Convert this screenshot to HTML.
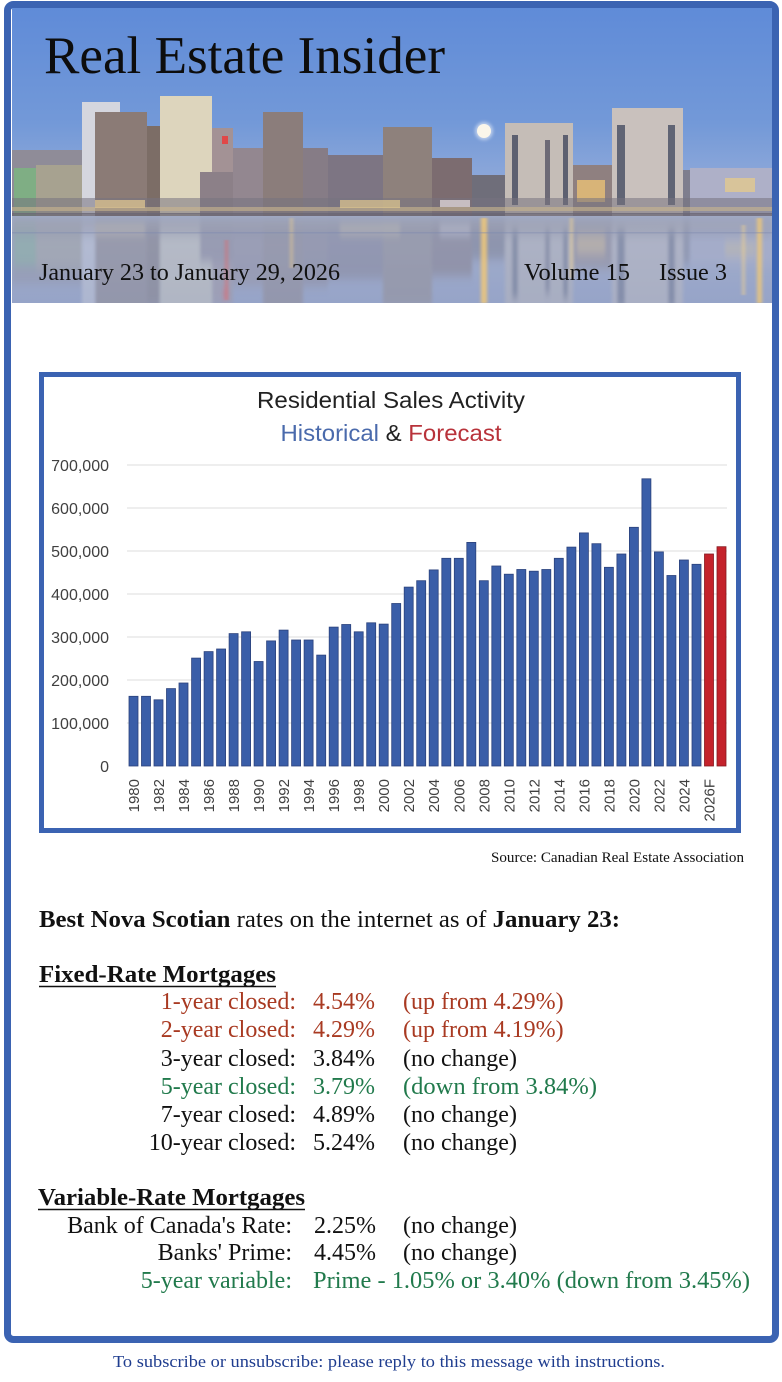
<!DOCTYPE html>
<html>
<head>
<meta charset="utf-8">
<style>
  html,body{margin:0;padding:0;background:#ffffff;}
  svg{display:block;}
  .serif{font-family:"Liberation Serif","Times New Roman",serif;}
  .sans{font-family:"Liberation Sans",Arial,sans-serif;}
</style>
</head>
<body>
<svg width="782" height="1382" viewBox="0 0 782 1382" xmlns="http://www.w3.org/2000/svg">
  <defs>
    <linearGradient id="sky" x1="0" y1="0" x2="0" y2="1">
      <stop offset="0" stop-color="#5f8bd8"/>
      <stop offset="0.55" stop-color="#7399d8"/>
      <stop offset="1" stop-color="#9fb2da"/>
    </linearGradient>
    <linearGradient id="water" x1="0" y1="0" x2="0" y2="1">
      <stop offset="0" stop-color="#a6b0cc"/>
      <stop offset="1" stop-color="#93a1c6"/>
    </linearGradient>
    <clipPath id="hc"><rect x="12" y="8" width="760" height="295"/></clipPath>
    <clipPath id="wc"><rect x="12" y="216" width="760" height="87"/></clipPath>
    <filter id="bl" x="-10%" y="-20%" width="120%" height="140%"><feGaussianBlur stdDeviation="1.5 5"/></filter>
    <filter id="bl2" x="-50%" y="-10%" width="200%" height="120%"><feGaussianBlur stdDeviation="1.5 0.5"/></filter>
    <filter id="glow" x="-100%" y="-100%" width="300%" height="300%"><feGaussianBlur stdDeviation="1.5"/></filter>
  </defs>

  <!-- Outer frame -->
  <rect x="7.5" y="4.5" width="768" height="1335" rx="6" ry="6" fill="#ffffff" stroke="#3b63b2" stroke-width="7"/>

  <!-- Header image -->
  <g clip-path="url(#hc)">
    <rect x="12" y="8" width="760" height="210" fill="url(#sky)"/>
    <g id="city">
      <rect x="12" y="150" width="70" height="66" fill="#8f8c98"/>
      <rect x="14" y="168" width="22" height="48" fill="#7fae84"/>
      <rect x="36" y="165" width="46" height="51" fill="#a7a290"/>
      <rect x="82" y="102" width="38" height="114" fill="#d5d6de"/>
      <rect x="95" y="112" width="52" height="104" fill="#8b7b76"/>
      <rect x="147" y="126" width="14" height="90" fill="#7c6d66"/>
      <rect x="160" y="96" width="52" height="120" fill="#ddd5bd"/>
      <rect x="212" y="128" width="21" height="88" fill="#a39295"/>
      <rect x="222" y="136" width="6" height="8" fill="#e04848"/>
      <rect x="200" y="172" width="90" height="44" fill="#8c8088"/>
      <rect x="233" y="148" width="30" height="68" fill="#938790"/>
      <rect x="263" y="112" width="40" height="104" fill="#8b7d7b"/>
      <rect x="303" y="148" width="25" height="68" fill="#867c86"/>
      <rect x="328" y="155" width="55" height="61" fill="#7d7583"/>
      <rect x="383" y="127" width="49" height="89" fill="#8e817c"/>
      <rect x="432" y="158" width="40" height="58" fill="#7c6c70"/>
      <rect x="472" y="175" width="33" height="41" fill="#6f6e7a"/>
      <rect x="505" y="123" width="68" height="93" fill="#c5bdb7"/>
      <rect x="512" y="135" width="6" height="70" fill="#5d6070"/>
      <rect x="545" y="140" width="5" height="65" fill="#6d6a76"/>
      <rect x="563" y="135" width="5" height="70" fill="#5d6070"/>
      <rect x="573" y="165" width="39" height="51" fill="#8f8080"/>
      <rect x="577" y="180" width="28" height="22" fill="#d8b478"/>
      <rect x="612" y="108" width="71" height="108" fill="#c9c1bd"/>
      <rect x="617" y="125" width="8" height="80" fill="#606474"/>
      <rect x="668" y="125" width="7" height="80" fill="#606474"/>
      <rect x="683" y="170" width="7" height="46" fill="#7e7e8e"/>
      <rect x="690" y="168" width="82" height="48" fill="#aeb0c8"/>
      <rect x="725" y="178" width="30" height="14" fill="#d8c49a"/>
      <rect x="12" y="198" width="760" height="16" fill="#77737f" opacity="0.55"/>
      <rect x="12" y="207" width="760" height="4" fill="#c9b58e" opacity="0.6"/>
      <rect x="95" y="200" width="50" height="8" fill="#d8c090" opacity="0.8"/>
      <rect x="340" y="200" width="60" height="8" fill="#e0c890" opacity="0.7"/>
      <rect x="440" y="200" width="30" height="7" fill="#e8e0e0" opacity="0.7"/>
      <rect x="12" y="213" width="760" height="3" fill="#6a6674" opacity="0.8"/>
    </g>
    <circle cx="484" cy="131" r="9" fill="#ffffff" opacity="0.5" filter="url(#glow)"/>
    <circle cx="484" cy="131" r="7" fill="#fbf6ea"/>

    <!-- water -->
    <rect x="12" y="216" width="760" height="87" fill="url(#water)"/>
    <g clip-path="url(#wc)">
      <g opacity="0.5" filter="url(#bl)">
        <use href="#city" transform="translate(0,434) scale(1,-1)"/>
      </g>
    </g>
    <rect x="12" y="216" width="760" height="87" fill="#a0abcd" opacity="0.3"/>
    <g filter="url(#bl2)">
      <rect x="481" y="218" width="6" height="85" fill="#f0c878" opacity="0.85"/>
      <rect x="757" y="218" width="5" height="85" fill="#f0c878" opacity="0.8"/>
      <rect x="742" y="225" width="3" height="70" fill="#f0d090" opacity="0.6"/>
      <rect x="570" y="218" width="3" height="60" fill="#f0d090" opacity="0.6"/>
      <rect x="225" y="240" width="3" height="60" fill="#e86060" opacity="0.5"/>
      <rect x="290" y="218" width="3" height="50" fill="#f0d090" opacity="0.5"/>
    </g>
    <rect x="12" y="232" width="760" height="1.5" fill="#7a88b0" opacity="0.4"/>
  </g>

  <!-- Header text -->
  <text class="serif" x="44" y="73" font-size="53" fill="#0d0d0d" textLength="401" lengthAdjust="spacingAndGlyphs">Real Estate Insider</text>
  <text class="serif" x="39" y="280" font-size="24" fill="#111" textLength="301" lengthAdjust="spacingAndGlyphs">January 23 to January 29, 2026</text>
  <text class="serif" x="524" y="280" font-size="24" fill="#111" textLength="106" lengthAdjust="spacingAndGlyphs">Volume 15</text>
  <text class="serif" x="659" y="280" font-size="24" fill="#111" textLength="68" lengthAdjust="spacingAndGlyphs">Issue 3</text>

  <!-- Chart frame -->
  <rect x="41.5" y="374.5" width="697" height="456" fill="#ffffff" stroke="#3b63b2" stroke-width="5"/>

  <!-- Chart title -->
  <text class="sans" x="391" y="408" font-size="23" fill="#222" text-anchor="middle" textLength="268" lengthAdjust="spacingAndGlyphs">Residential Sales Activity</text>
  <text class="sans" x="391" y="441" font-size="23" text-anchor="middle" textLength="221" lengthAdjust="spacingAndGlyphs"><tspan fill="#4a6aac">Historical</tspan><tspan fill="#222"> &amp; </tspan><tspan fill="#b8323a">Forecast</tspan></text>

  <!-- gridlines -->
  <g stroke="#e4e4e4" stroke-width="1.2">
    <line x1="127" y1="465" x2="727" y2="465"/>
    <line x1="127" y1="508" x2="727" y2="508"/>
    <line x1="127" y1="551" x2="727" y2="551"/>
    <line x1="127" y1="594" x2="727" y2="594"/>
    <line x1="127" y1="637" x2="727" y2="637"/>
    <line x1="127" y1="680" x2="727" y2="680"/>
    <line x1="127" y1="723" x2="727" y2="723"/>
  </g>

  <!-- y labels -->
  <g class="sans" font-size="16" fill="#404040" text-anchor="end">
    <text x="109" y="471">700,000</text>
    <text x="109" y="514">600,000</text>
    <text x="109" y="557">500,000</text>
    <text x="109" y="600">400,000</text>
    <text x="109" y="643">300,000</text>
    <text x="109" y="686">200,000</text>
    <text x="109" y="729">100,000</text>
    <text x="109" y="772">0</text>
  </g>

  <!-- bars -->
  <g fill="#3a5ea8" stroke="#2b427c" stroke-width="0.8">
    <rect x="129.0" y="696.3" width="9" height="69.7"/>
    <rect x="141.5" y="696.3" width="9" height="69.7"/>
    <rect x="154.0" y="699.8" width="9" height="66.2"/>
    <rect x="166.5" y="688.6" width="9" height="77.4"/>
    <rect x="179.0" y="683.0" width="9" height="83.0"/>
    <rect x="191.6" y="658.1" width="9" height="107.9"/>
    <rect x="204.1" y="651.6" width="9" height="114.4"/>
    <rect x="216.6" y="649.0" width="9" height="117.0"/>
    <rect x="229.1" y="633.6" width="9" height="132.4"/>
    <rect x="241.6" y="631.8" width="9" height="134.2"/>
    <rect x="254.1" y="661.5" width="9" height="104.5"/>
    <rect x="266.6" y="640.9" width="9" height="125.1"/>
    <rect x="279.1" y="630.1" width="9" height="135.9"/>
    <rect x="291.6" y="640.0" width="9" height="126.0"/>
    <rect x="304.1" y="640.0" width="9" height="126.0"/>
    <rect x="316.7" y="655.1" width="9" height="110.9"/>
    <rect x="329.2" y="627.1" width="9" height="138.9"/>
    <rect x="341.7" y="624.5" width="9" height="141.5"/>
    <rect x="354.2" y="631.8" width="9" height="134.2"/>
    <rect x="366.7" y="622.8" width="9" height="143.2"/>
    <rect x="379.2" y="624.1" width="9" height="141.9"/>
    <rect x="391.7" y="603.5" width="9" height="162.5"/>
    <rect x="404.2" y="587.1" width="9" height="178.9"/>
    <rect x="416.7" y="580.7" width="9" height="185.3"/>
    <rect x="429.2" y="569.9" width="9" height="196.1"/>
    <rect x="441.8" y="558.3" width="9" height="207.7"/>
    <rect x="454.3" y="558.3" width="9" height="207.7"/>
    <rect x="466.8" y="542.4" width="9" height="223.6"/>
    <rect x="479.3" y="580.7" width="9" height="185.3"/>
    <rect x="491.8" y="566.0" width="9" height="200.0"/>
    <rect x="504.3" y="574.2" width="9" height="191.8"/>
    <rect x="516.8" y="569.5" width="9" height="196.5"/>
    <rect x="529.3" y="571.2" width="9" height="194.8"/>
    <rect x="541.8" y="569.5" width="9" height="196.5"/>
    <rect x="554.3" y="558.3" width="9" height="207.7"/>
    <rect x="566.9" y="547.1" width="9" height="218.9"/>
    <rect x="579.4" y="532.9" width="9" height="233.1"/>
    <rect x="591.9" y="543.7" width="9" height="222.3"/>
    <rect x="604.4" y="567.3" width="9" height="198.7"/>
    <rect x="616.9" y="554.0" width="9" height="212.0"/>
    <rect x="629.4" y="527.3" width="9" height="238.7"/>
    <rect x="641.9" y="478.8" width="9" height="287.2"/>
    <rect x="654.4" y="551.9" width="9" height="214.1"/>
    <rect x="666.9" y="575.5" width="9" height="190.5"/>
    <rect x="679.4" y="560.0" width="9" height="206.0"/>
    <rect x="692.0" y="564.3" width="9" height="201.7"/>
  </g>
  <g fill="#c4222b" stroke="#861a20" stroke-width="0.8">
    <rect x="704.5" y="554.0" width="9" height="212.0"/>
    <rect x="717.0" y="546.7" width="9" height="219.3"/>
  </g>

  <!-- x labels -->
  <g class="sans" font-size="15" fill="#404040" text-anchor="end">
    <text transform="translate(139.0,779) rotate(-90)">1980</text>
    <text transform="translate(164.0,779) rotate(-90)">1982</text>
    <text transform="translate(189.0,779) rotate(-90)">1984</text>
    <text transform="translate(214.1,779) rotate(-90)">1986</text>
    <text transform="translate(239.1,779) rotate(-90)">1988</text>
    <text transform="translate(264.1,779) rotate(-90)">1990</text>
    <text transform="translate(289.1,779) rotate(-90)">1992</text>
    <text transform="translate(314.1,779) rotate(-90)">1994</text>
    <text transform="translate(339.2,779) rotate(-90)">1996</text>
    <text transform="translate(364.2,779) rotate(-90)">1998</text>
    <text transform="translate(389.2,779) rotate(-90)">2000</text>
    <text transform="translate(414.2,779) rotate(-90)">2002</text>
    <text transform="translate(439.2,779) rotate(-90)">2004</text>
    <text transform="translate(464.3,779) rotate(-90)">2006</text>
    <text transform="translate(489.3,779) rotate(-90)">2008</text>
    <text transform="translate(514.3,779) rotate(-90)">2010</text>
    <text transform="translate(539.3,779) rotate(-90)">2012</text>
    <text transform="translate(564.3,779) rotate(-90)">2014</text>
    <text transform="translate(589.4,779) rotate(-90)">2016</text>
    <text transform="translate(614.4,779) rotate(-90)">2018</text>
    <text transform="translate(639.4,779) rotate(-90)">2020</text>
    <text transform="translate(664.4,779) rotate(-90)">2022</text>
    <text transform="translate(689.4,779) rotate(-90)">2024</text>
    <text transform="translate(714.5,779) rotate(-90)">2026F</text>
  </g>

  <!-- Source -->
  <text class="serif" x="491" y="862" font-size="14.5" fill="#111" textLength="253" lengthAdjust="spacingAndGlyphs">Source: Canadian Real Estate Association</text>

  <!-- Rates intro -->
  <text class="serif" x="39" y="927" font-size="24" fill="#111" textLength="581" lengthAdjust="spacingAndGlyphs"><tspan font-weight="bold">Best Nova Scotian</tspan> rates on the internet as of <tspan font-weight="bold">January 23:</tspan></text>

  <!-- Fixed -->
  <text class="serif" x="39" y="982" font-size="24" font-weight="bold" fill="#111" textLength="237" lengthAdjust="spacingAndGlyphs">Fixed-Rate Mortgages</text>
  <line x1="39" y1="986.5" x2="276" y2="986.5" stroke="#111" stroke-width="1.6"/>

  <g class="serif" font-size="24">
    <g fill="#a93a22">
      <text x="296" y="1009" text-anchor="end">1-year closed:</text>
      <text x="313" y="1009">4.54%</text>
      <text x="403" y="1009">(up from 4.29%)</text>
      <text x="296" y="1037" text-anchor="end">2-year closed:</text>
      <text x="313" y="1037">4.29%</text>
      <text x="403" y="1037">(up from 4.19%)</text>
    </g>
    <g fill="#111">
      <text x="296" y="1066" text-anchor="end">3-year closed:</text>
      <text x="313" y="1066">3.84%</text>
      <text x="403" y="1066">(no change)</text>
    </g>
    <g fill="#217a4c">
      <text x="296" y="1094" text-anchor="end">5-year closed:</text>
      <text x="313" y="1094">3.79%</text>
      <text x="403" y="1094" textLength="194" lengthAdjust="spacingAndGlyphs">(down from 3.84%)</text>
    </g>
    <g fill="#111">
      <text x="296" y="1122" text-anchor="end">7-year closed:</text>
      <text x="313" y="1122">4.89%</text>
      <text x="403" y="1122">(no change)</text>
      <text x="296" y="1150" text-anchor="end">10-year closed:</text>
      <text x="313" y="1150">5.24%</text>
      <text x="403" y="1150">(no change)</text>
    </g>
  </g>

  <!-- Variable -->
  <text class="serif" x="38" y="1205" font-size="24" font-weight="bold" fill="#111" textLength="267" lengthAdjust="spacingAndGlyphs">Variable-Rate Mortgages</text>
  <line x1="38" y1="1209.5" x2="305" y2="1209.5" stroke="#111" stroke-width="1.6"/>

  <g class="serif" font-size="24">
    <g fill="#111">
      <text x="292" y="1233" text-anchor="end">Bank of Canada's Rate:</text>
      <text x="314" y="1233">2.25%</text>
      <text x="403" y="1233">(no change)</text>
      <text x="292" y="1260" text-anchor="end">Banks' Prime:</text>
      <text x="314" y="1260">4.45%</text>
      <text x="403" y="1260">(no change)</text>
    </g>
    <g fill="#217a4c">
      <text x="292" y="1288" text-anchor="end">5-year variable:</text>
      <text x="313" y="1288" textLength="437" lengthAdjust="spacingAndGlyphs">Prime - 1.05% or 3.40% (down from 3.45%)</text>
    </g>
  </g>

  <!-- Footer -->
  <text class="serif" x="113" y="1367" font-size="17" fill="#1f3d8f" textLength="552" lengthAdjust="spacingAndGlyphs">To subscribe or unsubscribe: please reply to this message with instructions.</text>
</svg>
</body>
</html>
